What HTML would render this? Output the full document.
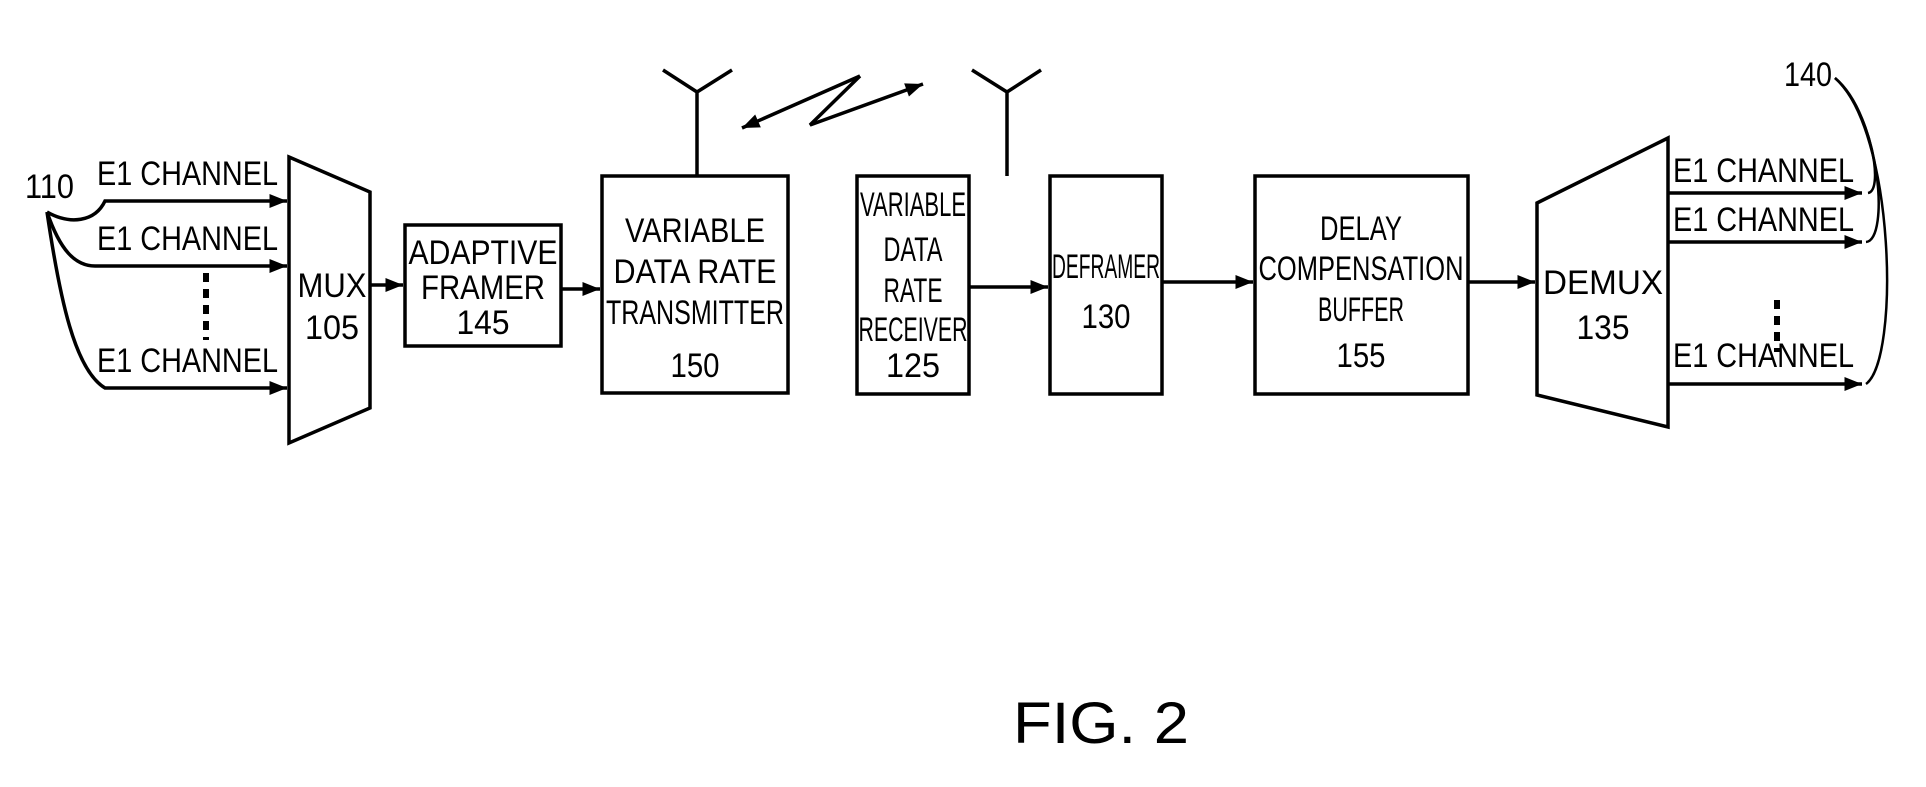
<!DOCTYPE html>
<html><head><meta charset="utf-8"><style>
html,body{margin:0;padding:0;background:#fff}
svg{display:block}
text{font-family:"Liberation Sans",Arial,sans-serif;fill:#000}
</style></head><body>
<svg width="1926" height="787" viewBox="0 0 1926 787" xmlns="http://www.w3.org/2000/svg">
<defs>
<marker id="a" viewBox="0 0 10 10" refX="10" refY="5" markerWidth="7" markerHeight="5" orient="auto" markerUnits="strokeWidth"><path d="M0,1 L10,5 L0,9 z" fill="#000"/></marker>
</defs>
<g stroke="#000" stroke-width="3.5" fill="none">
<path d="M47,212 C70,225 95,222 105,201 L287,201" marker-end="url(#a)"/>
<path d="M47,212 C60,250 75,266 95,266 L287,266" marker-end="url(#a)"/>
<path d="M47,212 C60,300 75,370 105,388 L287,388" marker-end="url(#a)"/>
<path d="M289,157 L370,192 L370,408 L289,443 Z"/>
<path d="M370,285 L403,285" marker-end="url(#a)"/>
<rect x="405" y="225" width="156" height="121"/>
<path d="M561,289 L600,289" marker-end="url(#a)"/>
<rect x="602" y="176" width="186" height="217"/>
<path d="M697,176 L697,92 M663,70 L697,92 L732,70"/>
<rect x="857" y="176" width="112" height="218"/>
<path d="M1007,176 L1007,92 M972,70 L1007,92 L1041,70"/>
<path d="M860,76 L742,128" marker-end="url(#a)"/>
<path d="M860,76 L810,125 L923,84" marker-end="url(#a)"/>
<path d="M969,287 L1048,287" marker-end="url(#a)"/>
<rect x="1050" y="176" width="112" height="218"/>
<path d="M1162,282 L1253,282" marker-end="url(#a)"/>
<rect x="1255" y="176" width="213" height="218"/>
<path d="M1468,282 L1535,282" marker-end="url(#a)"/>
<path d="M1537,203 L1668,138 L1668,427 L1537,395 Z"/>
<path d="M1668,193 L1862,193" marker-end="url(#a)"/>
<path d="M1668,242 L1862,242" marker-end="url(#a)"/>
<path d="M1668,384 L1862,384" marker-end="url(#a)"/>
<path d="M1835,78 C1870,110 1885,190 1868,193" stroke-width="2.5"/>
<path d="M1835,78 C1880,115 1890,240 1866,242" stroke-width="2.5"/>
<path d="M1835,78 C1895,130 1900,360 1866,384" stroke-width="2.5"/>
</g>
<g stroke="#000" stroke-width="6" stroke-dasharray="9,7">
<line x1="206" y1="273" x2="206" y2="340"/>
<line x1="1777" y1="300" x2="1777" y2="352"/>
</g>
<g font-size="34">
<text x="97" y="185" textLength="181" lengthAdjust="spacingAndGlyphs">E1 CHANNEL</text>
<text x="97" y="250" textLength="181" lengthAdjust="spacingAndGlyphs">E1 CHANNEL</text>
<text x="97" y="372" textLength="181" lengthAdjust="spacingAndGlyphs">E1 CHANNEL</text>
<text x="1673" y="182" textLength="181" lengthAdjust="spacingAndGlyphs">E1 CHANNEL</text>
<text x="1673" y="231" textLength="181" lengthAdjust="spacingAndGlyphs">E1 CHANNEL</text>
<text x="1673" y="367" textLength="181" lengthAdjust="spacingAndGlyphs">E1 CHANNEL</text>
<text x="25" y="198" textLength="49" lengthAdjust="spacingAndGlyphs">110</text>
<text x="1784" y="86" textLength="48" lengthAdjust="spacingAndGlyphs">140</text>
</g>
<g font-size="34" text-anchor="middle" lengthAdjust="spacingAndGlyphs">
<text x="332" y="297" textLength="69" lengthAdjust="spacingAndGlyphs">MUX</text>
<text x="332" y="339" textLength="54" lengthAdjust="spacingAndGlyphs">105</text>
<text x="483" y="264" textLength="149" lengthAdjust="spacingAndGlyphs">ADAPTIVE</text>
<text x="483" y="299" textLength="124" lengthAdjust="spacingAndGlyphs">FRAMER</text>
<text x="483" y="334" textLength="53" lengthAdjust="spacingAndGlyphs">145</text>
<text x="695" y="242" textLength="140" lengthAdjust="spacingAndGlyphs">VARIABLE</text>
<text x="695" y="283" textLength="163" lengthAdjust="spacingAndGlyphs">DATA RATE</text>
<text x="695" y="324" textLength="178" lengthAdjust="spacingAndGlyphs">TRANSMITTER</text>
<text x="695" y="377" textLength="49" lengthAdjust="spacingAndGlyphs">150</text>
<text x="913" y="216" textLength="106" lengthAdjust="spacingAndGlyphs">VARIABLE</text>
<text x="913" y="261" textLength="59" lengthAdjust="spacingAndGlyphs">DATA</text>
<text x="913" y="302" textLength="59" lengthAdjust="spacingAndGlyphs">RATE</text>
<text x="913" y="341" textLength="109" lengthAdjust="spacingAndGlyphs">RECEIVER</text>
<text x="913" y="377" textLength="54" lengthAdjust="spacingAndGlyphs">125</text>
<text x="1106" y="278" textLength="108" lengthAdjust="spacingAndGlyphs">DEFRAMER</text>
<text x="1106" y="328" textLength="49" lengthAdjust="spacingAndGlyphs">130</text>
<text x="1361" y="240" textLength="82" lengthAdjust="spacingAndGlyphs">DELAY</text>
<text x="1361" y="280" textLength="205" lengthAdjust="spacingAndGlyphs">COMPENSATION</text>
<text x="1361" y="321" textLength="86" lengthAdjust="spacingAndGlyphs">BUFFER</text>
<text x="1361" y="367" textLength="49" lengthAdjust="spacingAndGlyphs">155</text>
<text x="1603" y="294" textLength="120" lengthAdjust="spacingAndGlyphs">DEMUX</text>
<text x="1603" y="339" textLength="53" lengthAdjust="spacingAndGlyphs">135</text>
</g>
<text x="1013" y="743" font-size="58" textLength="176" lengthAdjust="spacingAndGlyphs">FIG. 2</text>
</svg>
</body></html>
